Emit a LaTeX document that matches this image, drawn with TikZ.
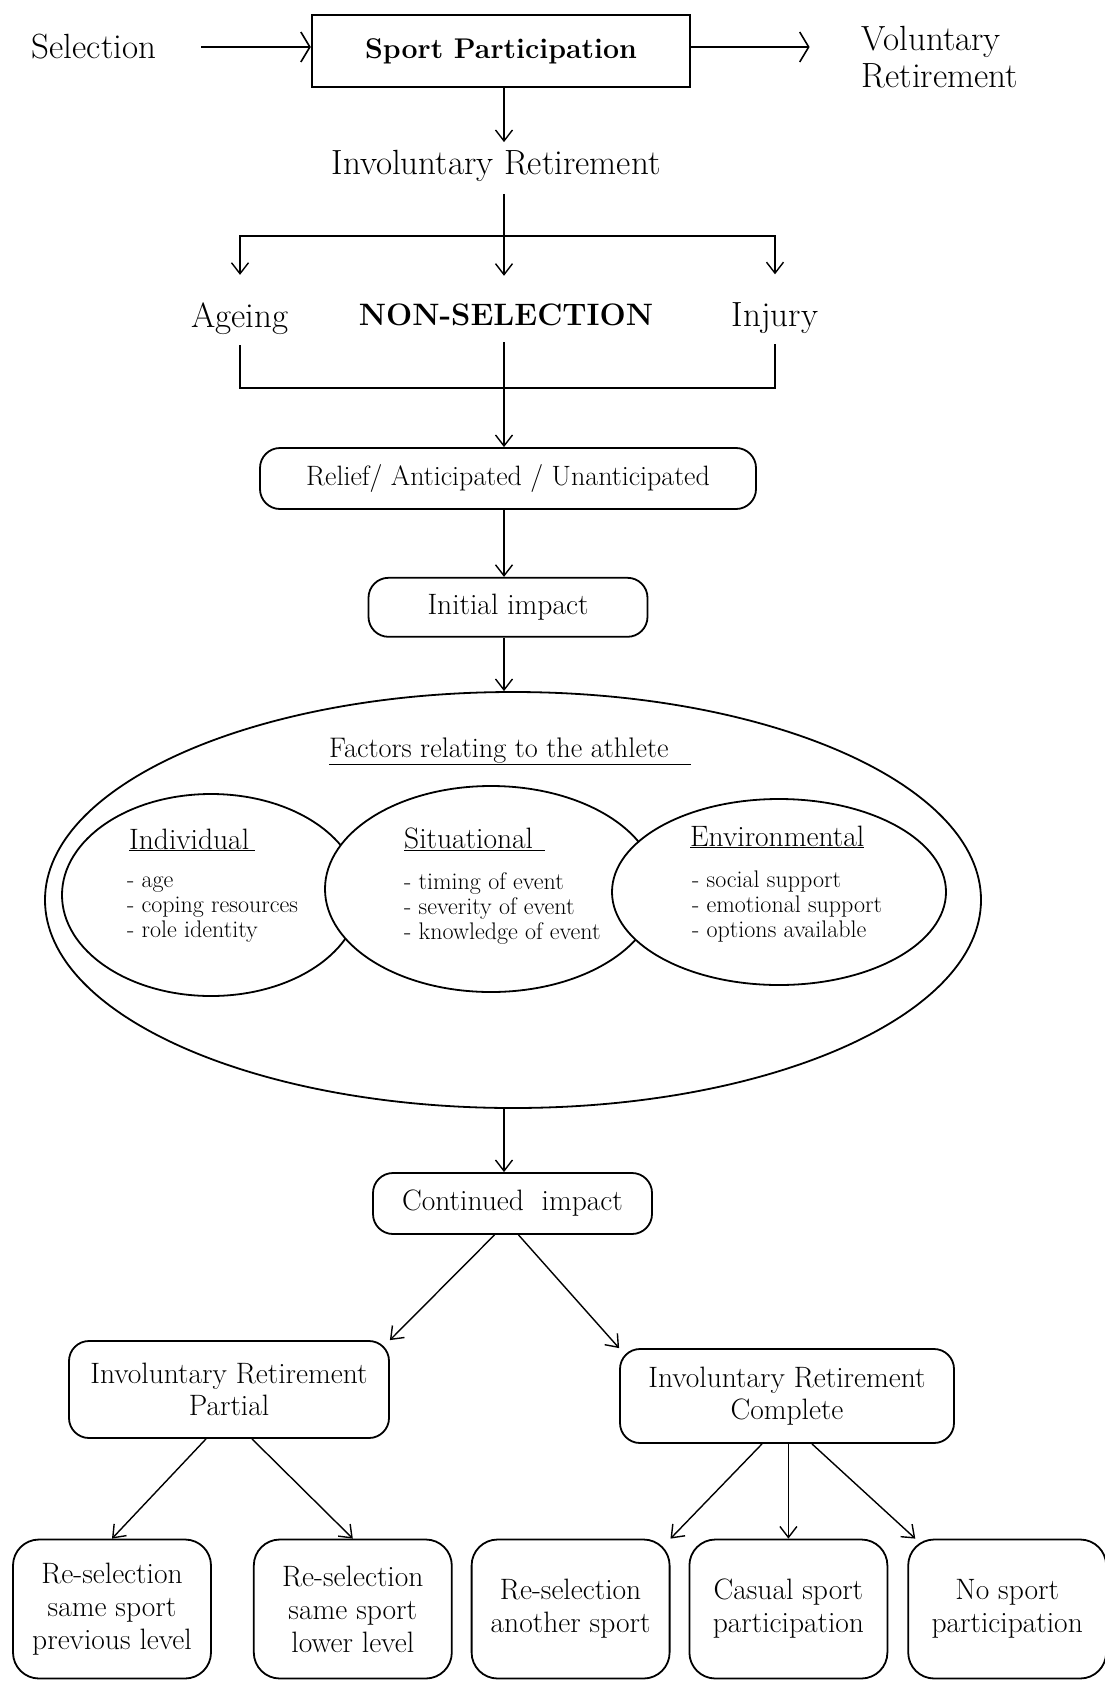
\documentclass[tikz,border=0pt]{standalone}
\usepackage{tikz}
\usetikzlibrary{shapes.geometric, arrows.meta, positioning}

\begin{document}
\begin{tikzpicture}[
    x=1pt, y=-1pt,
    node distance=18pt,
    lbl/.style={inner sep=0pt, font=\fontsize{35}{37}\selectfont},
    headbox/.style={rectangle, draw, line width=2.4pt, minimum width=378pt, minimum height=72pt,
                    inner sep=0pt, font=\bfseries\fontsize{28.5}{32}\selectfont},
    stagebox/.style={rectangle, rounded corners=20pt, draw, line width=1.8pt, inner sep=0pt,
                     align=center, font=\fontsize{29.5}{32}\selectfont},
    outbox/.style={stagebox, rounded corners=26pt, minimum width=198pt, minimum height=139pt,
                   font=\fontsize{29.5}{33}\selectfont},
    factell/.style={ellipse, draw, line width=1.8pt, fill=white, inner sep=0pt},
    facthead/.style={anchor=base west, inner sep=0pt, font=\fontsize{29.5}{32}\selectfont},
    factlist/.style={anchor=base west, inner sep=0pt, align=left, font=\fontsize{24}{25}\selectfont},
    arr/.style={-{Straight Barb[length=11pt,width=17pt]}, line width=1.4pt},
    sidearr/.style={-{Straight Barb[length=9pt,width=30pt]}, line width=1.6pt},
]

\useasboundingbox (0,0) rectangle (1104,1683);

\node[headbox] (sport) at (501,51) {Sport Participation};
\node[lbl] (selection) at (94,47) {Selection};
\node[lbl, align=left] (volret) at (940,57) {Voluntary\\Retirement};
\node[lbl] (invol) at (496,166) {Involuntary Retirement};

\node[lbl] (ageing) at (240,319) {Ageing};
\node[lbl, font=\bfseries\fontsize{31}{34}\selectfont] (nonsel) at (506,315) {NON-SELECTION};
\node[lbl] (injury) at (775,318) {Injury};

\coordinate (split) at (504,236);
\coordinate (merge) at (504,388);

\node[stagebox, minimum width=496pt, minimum height=61pt, font=\fontsize{28}{31}\selectfont] (relief) at (508,478.5) {Relief/ Anticipated / Unanticipated};
\node[stagebox, minimum width=279pt, minimum height=59pt, below=67pt of relief] (initial) {Initial impact};

\node[factell, minimum width=936pt, minimum height=416pt] (factors) at (513,900) {};
\node[factell, minimum width=298pt, minimum height=202pt] (indiv) at (211,895) {};
\node[factell, minimum width=332pt, minimum height=206pt] (situ) at (491,889) {};
\node[factell, minimum width=334pt, minimum height=186pt] (envir) at (779,892) {};

\node[facthead, font=\fontsize{28.3}{31}\selectfont] (facttitle) at (329,757) {\underline{Factors relating to the athlete\hspace{22pt}}};
\node[facthead] (indivhead) at (129,849) {\underline{Individual\hspace{6pt}}};
\node[factlist] (indivlist) at (127,937) {- age\\- coping resources\\- role identity};
\node[facthead] (situhead) at (404,848) {\underline{Situational\hspace{12pt}}};
\node[factlist] (situlist) at (404,939) {- timing of event\\- severity of event\\- knowledge of event};
\node[facthead] (envirhead) at (690,846) {\underline{Environmental}};
\node[factlist] (envirlist) at (692,937) {- social support\\- emotional support\\- options available};

\node[stagebox, minimum width=279pt, minimum height=61pt] (continued) at (512.5,1203.5) {Continued\ \ impact};
\node[stagebox, minimum width=320pt, minimum height=97pt] (partial) at (229,1389.5) {Involuntary Retirement\\Partial};
\node[stagebox, minimum width=334pt, minimum height=94pt] (complete) at (787,1396) {Involuntary Retirement\\Complete};

\node[outbox] (samelevel) at (112,1609) {Re-selection\\same sport\\previous level};
\node[outbox, right=41pt of samelevel] (lowerlevel) {Re-selection\\same sport\\lower level};
\node[outbox, right=18pt of lowerlevel] (another) {Re-selection\\another sport};
\node[outbox, right=18pt of another] (casual) {Casual sport\\participation};
\node[outbox, right=19pt of casual] (nosport) {No sport\\participation};

\draw[sidearr, shorten <=45pt] (selection.east) -- (selection.east -| sport.west);
\draw[sidearr, shorten >=52pt] (sport.east |- selection.east) -- (volret.west |- selection.east);

\draw[arr, shorten >=8pt] (sport.south -| split) -- (invol.north -| split);
\draw[line width=1.4pt] (invol.south -| split) ++(0,12) -- (split);
\draw[arr, shorten >=28pt] (split) -- (nonsel.north -| split);
\draw[arr, shorten >=28pt] (split) -| (ageing.north);
\draw[arr, shorten >=28pt] (split) -| (injury.north);

\draw[line width=1.4pt] ([yshift=-10pt]ageing.south) |- (merge) -| ([yshift=-10pt]injury.south);
\draw[arr, shorten <=16pt] (nonsel.south -| merge) -- (relief.north -| merge);

\draw[arr] (relief.south -| split) -- (initial.north -| split);
\draw[arr] (initial.south -| split) -- (factors.north -| split);
\draw[arr] (factors.south -| split) -- (continued.north -| split);

\draw[arr] ([xshift=-18pt]continued.south) -- (partial.north east);
\draw[arr] ([xshift=6pt]continued.south) -- (complete.north west);
\draw[arr] ([xshift=-23pt]partial.south) -- (samelevel.north);
\draw[arr] ([xshift=23pt]partial.south) -- (lowerlevel.north);
\draw[arr] ([xshift=-25pt]complete.south) -- (another.north east);
\draw[arr] (complete.south -| casual) -- (casual.north);
\draw[arr] ([xshift=25pt]complete.south) -- ([xshift=8pt]nosport.north west);

\end{tikzpicture}
\end{document}
